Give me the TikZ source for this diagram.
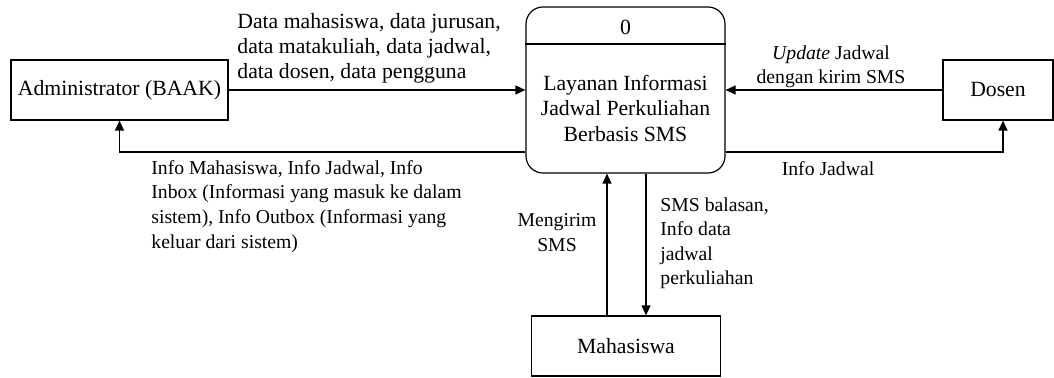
\documentclass[tikz,border=0pt]{standalone}
\usepackage{fontspec}
\setmainfont{Liberation Serif}
\usepackage{tikz}
\usetikzlibrary{positioning,arrows.meta}

\begin{document}
\begin{tikzpicture}[
  x=0.5pt, y=-0.5pt,
  every node/.style={font=\fontsize{10.85}{12.6}\selectfont},
  entity/.style={draw, line width=0.6pt, inner sep=0pt, minimum height=30pt},
  process/.style={draw, line width=0.6pt, rounded corners=8.5pt, minimum width=99.5pt, minimum height=83pt},
  biglbl/.style={inner sep=0pt},
  lbl/.style={inner sep=0pt, font=\fontsize{9.85}{12.3}\selectfont},
  arrow/.style={-{Triangle[length=5pt,width=4.5pt]}, line width=0.6pt}
]
\useasboundingbox (0,0) rectangle (1054,378);

\node[entity, minimum width=108.5pt] (admin) at (119.5,90) {Administrator (BAAK)};
\node[process] (proc) at (625.5,90) {};
\node (procno) at (625.5,27) {0};
\node[biglbl, align=center, anchor=north] (proctext) at (625.5,75) {Layanan Informasi\\Jadwal Perkuliahan\\Berbasis SMS};
\node[entity, minimum width=55pt] (dosen) at (998,90) {Dosen};
\node[entity, minimum width=94.5pt] (mhs) at (626,346) {Mahasiswa};

\coordinate (divy) at (0,44);
\coordinate (backy) at (0,152);
\draw[line width=0.6pt] (proc.west |- divy) -- (proc.east |- divy);

\draw[arrow] (admin) -- (proc);
\draw[arrow] (dosen) -- (proc);
\draw[arrow] (proc.west |- backy) -| (admin);
\draw[arrow] (proc.east |- backy) -| ([xshift=2.5pt]dosen.south);
\draw[arrow] ([xshift=-9.5pt]mhs.north) -- ([xshift=-9.5pt]mhs.north |- proc.south);
\draw[arrow] ([xshift=10pt]mhs.north |- proc.south) -- ([xshift=10pt]mhs.north);

% flow labels
\node[biglbl, align=left, anchor=north west] (datalbl) at (237,13) {Data mahasiswa, data jurusan,\\data matakuliah, data jadwal,\\data dosen, data pengguna};
\node[lbl, align=left, anchor=north west] (infolbl) at (151,160) {Info Mahasiswa, Info Jadwal, Info\\Inbox (Informasi yang masuk ke dalam\\sistem), Info Outbox (Informasi yang\\keluar dari sistem)};
\node[lbl, align=center, anchor=north] (updlbl) at (831,45) {\textit{Update} Jadwal\\dengan kirim SMS};
\node[lbl, anchor=north] (jadwallbl) at (828,161) {Info Jadwal};
\node[lbl, align=center, anchor=north] (kirimlbl) at (557,213) {Mengirim\\SMS};
\node[lbl, align=left, anchor=north west] (balaslbl) at (660,197) {SMS balasan,\\Info data\\jadwal\\perkuliahan};
\end{tikzpicture}
\end{document}
